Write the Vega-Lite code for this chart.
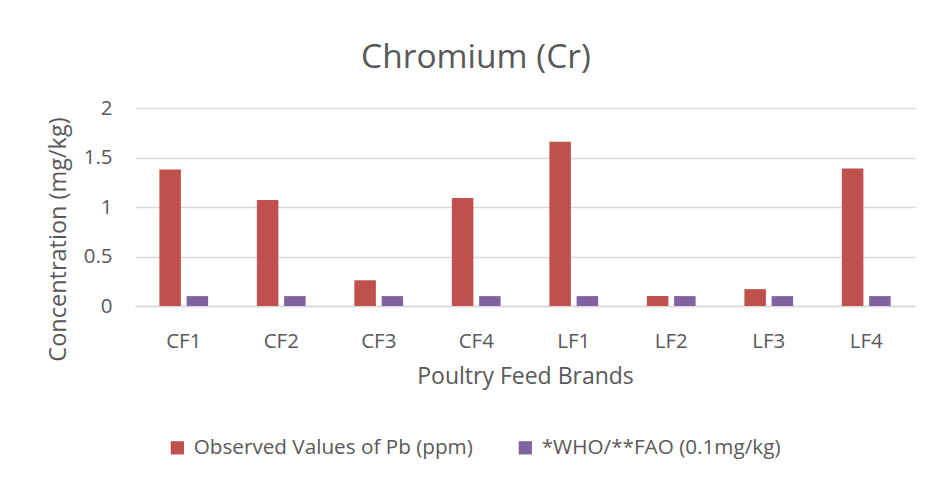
{
  "$schema": "https://vega.github.io/schema/vega-lite/v6.json",
  "width": 780,
  "height": 198,
  "autosize": {"type": "none"},
  "padding": {"left": 135, "top": 108, "right": 17, "bottom": 174},
  "background": "white",
  "title": {
    "text": "Chromium (Cr)",
    "font": "Open Sans",
    "fontSize": 33.5,
    "fontWeight": "normal",
    "color": "#595959",
    "anchor": "middle",
    "dx": -49,
    "offset": 23
  },
  "data": {
    "values": [
      {"brand": "CF1", "series": "Observed Values of Pb (ppm)", "value": 1.38},
      {"brand": "CF1", "series": "*WHO/**FAO (0.1mg/kg)", "value": 0.1},
      {"brand": "CF2", "series": "Observed Values of Pb (ppm)", "value": 1.07},
      {"brand": "CF2", "series": "*WHO/**FAO (0.1mg/kg)", "value": 0.1},
      {"brand": "CF3", "series": "Observed Values of Pb (ppm)", "value": 0.26},
      {"brand": "CF3", "series": "*WHO/**FAO (0.1mg/kg)", "value": 0.1},
      {"brand": "CF4", "series": "Observed Values of Pb (ppm)", "value": 1.09},
      {"brand": "CF4", "series": "*WHO/**FAO (0.1mg/kg)", "value": 0.1},
      {"brand": "LF1", "series": "Observed Values of Pb (ppm)", "value": 1.66},
      {"brand": "LF1", "series": "*WHO/**FAO (0.1mg/kg)", "value": 0.1},
      {"brand": "LF2", "series": "Observed Values of Pb (ppm)", "value": 0.1},
      {"brand": "LF2", "series": "*WHO/**FAO (0.1mg/kg)", "value": 0.1},
      {"brand": "LF3", "series": "Observed Values of Pb (ppm)", "value": 0.17},
      {"brand": "LF3", "series": "*WHO/**FAO (0.1mg/kg)", "value": 0.1},
      {"brand": "LF4", "series": "Observed Values of Pb (ppm)", "value": 1.39},
      {"brand": "LF4", "series": "*WHO/**FAO (0.1mg/kg)", "value": 0.1}
    ]
  },
  "mark": {"type": "bar"},
  "encoding": {
    "x": {
      "field": "brand",
      "type": "nominal",
      "sort": null,
      "title": "Poultry Feed Brands",
      "scale": {"paddingInner": 0.5, "paddingOuter": 0.25},
      "axis": {
        "labelAngle": 0,
        "ticks": false,
        "domain": true,
        "domainColor": "#d9d9d9",
        "domainWidth": 1.3,
        "labelPadding": 25,
        "labelFont": "Open Sans",
        "labelFontSize": 20.5,
        "labelColor": "#595959",
        "titleFont": "Open Sans",
        "titleFontSize": 23,
        "titleFontWeight": "normal",
        "titleColor": "#595959",
        "titlePadding": 14
      }
    },
    "xOffset": {
      "field": "series",
      "type": "nominal",
      "sort": ["Observed Values of Pb (ppm)", "*WHO/**FAO (0.1mg/kg)"],
      "scale": {"paddingInner": 0.21, "paddingOuter": 0}
    },
    "y": {
      "field": "value",
      "type": "quantitative",
      "title": "Concentration (mg/kg)",
      "scale": {"domain": [0, 2]},
      "axis": {
        "values": [0, 0.5, 1, 1.5, 2],
        "format": "~g",
        "ticks": false,
        "domain": false,
        "gridColor": "#d9d9d9",
        "gridWidth": 1.3,
        "labelPadding": 23,
        "labelFont": "Open Sans",
        "labelFontSize": 20.5,
        "labelColor": "#595959",
        "titleFont": "Open Sans",
        "titleFontSize": 23.5,
        "titleFontWeight": "normal",
        "titleColor": "#595959",
        "titlePadding": 13,
        "titleY": 131
      }
    },
    "color": {
      "field": "series",
      "type": "nominal",
      "sort": ["Observed Values of Pb (ppm)", "*WHO/**FAO (0.1mg/kg)"],
      "scale": {
        "domain": ["Observed Values of Pb (ppm)", "*WHO/**FAO (0.1mg/kg)"],
        "range": ["#C0504D", "#8064A2"]
      },
      "legend": {
        "title": null,
        "orient": "none",
        "legendX": 32,
        "legendY": 329,
        "direction": "horizontal",
        "symbolType": "square",
        "symbolSize": 175,
        "symbolStrokeWidth": 0,
        "symbolOffset": 0,
        "labelOffset": 6,
        "labelLimit": 400,
        "labelFont": "Open Sans",
        "labelFontSize": 20.7,
        "labelColor": "#595959",
        "columnPadding": 42
      }
    }
  },
  "config": {
    "view": {"stroke": null}
  }
}
